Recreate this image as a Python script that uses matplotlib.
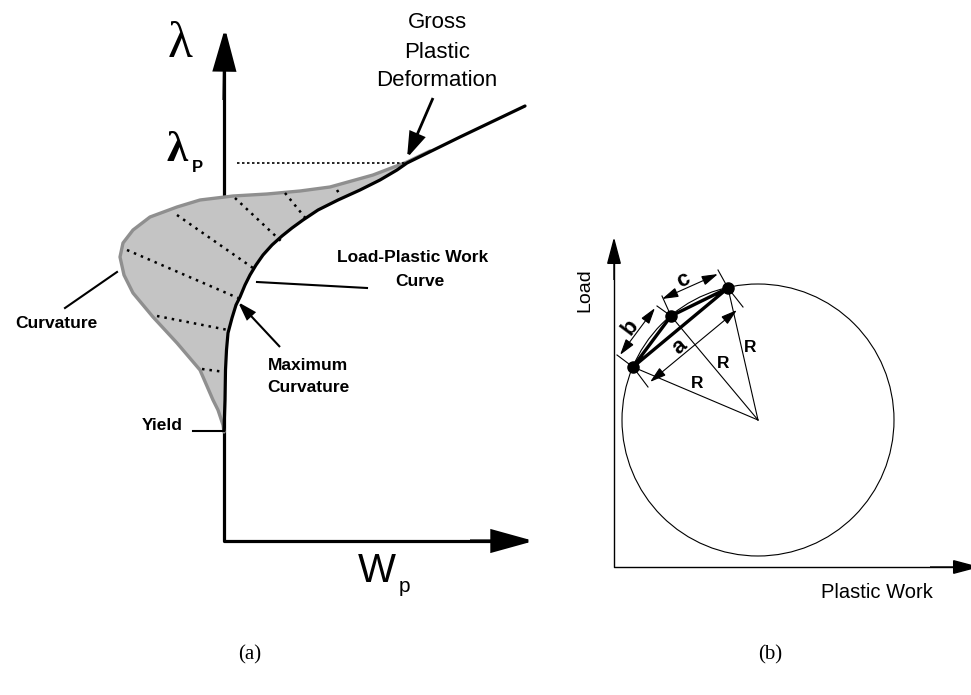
import matplotlib
matplotlib.use("Agg")
import matplotlib.pyplot as plt
from matplotlib.patches import FancyArrowPatch, Circle, Polygon

# ---- panel (a): schematic curves (pixel units) ----
black_x = [224, 225, 225.5, 226.5, 228, 232, 236, 240, 245, 250, 256, 263, 272, 282, 292, 303, 318, 338, 360, 380, 397, 407, 460, 525]
black_y = [430, 400, 370, 350, 333, 318, 305, 297, 285, 275, 265, 255, 245, 236, 228, 220, 210, 200, 190, 180, 170, 163, 137, 106]
gray_x = [224, 223, 218, 213, 200, 177, 153, 133, 124, 120, 123, 133, 150, 177, 200, 233, 267, 300, 330, 373, 407, 430]
gray_y = [432, 425, 410, 400, 370, 343, 317, 293, 275, 257, 243, 230, 217, 207, 200, 196, 194, 191, 187, 175, 162, 151]
dotted = [((235, 198), (282, 242)), ((285, 193), (307, 220)), ((337, 190), (340, 195)),
          ((177, 215), (253, 268)), ((127, 250), (238, 298)), ((157, 316), (228, 330)),
          ((202, 369), (225, 372))]

# ---- panel (b): circle and three points ----
centre = (758, 420)
radius = 136
pts_x = [633, 671, 728]
pts_y = [367, 316, 288]

fig = plt.figure(figsize=(9.71, 6.95), dpi=100)
ax = fig.add_axes([0, 0, 1, 1])
ax.set_xlim(0, 971)
ax.set_ylim(695, 0)
ax.axis("off")

def arrow(p0, p1, lw, hl, hw, style="-|>", ms=10, z=4):
    ax.add_patch(FancyArrowPatch(p0, p1, arrowstyle=f"{style},head_length={hl},head_width={hw}",
                                 mutation_scale=ms, lw=lw, color="k", shrinkA=0, shrinkB=0,
                                 joinstyle="miter", capstyle="butt", zorder=z))

# axes of panel (a) (drawn under the grey fill)
ax.plot([224, 224, 500], [60, 541, 541], color="k", lw=2.3, zorder=0.5)
arrow((224, 100), (225, 28), 2.3, 2.6, 0.72)
arrow((470, 541), (534, 541), 2.3, 2.6, 0.72)

# fill between grey boundary and black curve
cut = 21  # index in black curve at tangency
poly = list(zip(gray_x, gray_y)) + list(zip(black_x[:cut + 1], black_y[:cut + 1]))[::-1]
ax.add_patch(Polygon(poly, closed=True, fc="#c4c4c4", ec="none", zorder=1))
ax.plot(gray_x, gray_y, color="#8f8f8f", lw=2.4, zorder=2, solid_capstyle="round")
for (x0, y0), (x1, y1) in dotted:
    ax.plot([x0, x1], [y0, y1], color="k", lw=1.8, ls=(0, (1, 2.0)), zorder=3)
ax.plot(black_x, black_y, color="k", lw=2.3, zorder=4, solid_capstyle="round")
ax.plot([237, 407], [163, 163], color="k", lw=1.2, ls=(0, (1.5, 1.5)), zorder=3)

sans = "Liberation Sans"
serif = "Liberation Serif"
ax.text(180, 45, "λ", family=serif, fontsize=37, ha="center", va="center")
ax.text(177, 151, "λ", family=serif, fontsize=31, fontweight="bold", ha="center", va="center")
ax.text(197, 167, "P", family=sans, fontsize=12, fontweight="bold", ha="center", va="center")
ax.text(377, 571, "W", family=sans, fontsize=29, ha="center", va="center")
ax.text(404, 587, "p", family=sans, fontsize=15, ha="center", va="center")

for txt, yy in [("Gross", 22), ("Plastic", 52), ("Deformation", 80)]:
    ax.text(437, yy, txt, family=sans, fontsize=16, ha="center", va="center")
arrow((433, 98), (407, 158), 2.0, 1.5, 0.5)

bold = dict(family=sans, fontsize=12.5, fontweight="bold", ha="center", va="center")
ax.text(413, 257, "Load-Plastic Work", **bold)
ax.text(420, 282, "Curve", **bold)
ax.plot([257, 367], [282, 288], color="k", lw=1.5)

ax.text(56, 324, "Curvature", **bold)
ax.plot([65, 117], [308, 272], color="k", lw=1.5)

ax.text(308, 365, "Maximum", **bold)
ax.text(308, 388, "Curvature", **bold)
arrow((280, 347), (238, 302), 1.5, 1.1, 0.35)

ax.text(162, 426, "Yield", **bold)
ax.plot([193, 224], [431, 431], color="k", lw=1.5)

# ---- panel (b) ----
ax.plot([614, 614, 960], [250, 567, 567], color="k", lw=1.0)
arrow((614, 280), (614, 237), 1.0, 1.7, 0.45)
arrow((930, 567), (980, 567), 1.0, 1.7, 0.45)
ax.add_patch(Circle(centre, radius, fill=False, ec="k", lw=0.8))
for px, py in zip(pts_x, pts_y):
    ax.plot([centre[0], px], [centre[1], py], color="k", lw=0.8)
ax.plot(pts_x + [pts_x[0]], pts_y + [pts_y[0]], color="k", lw=2.4, zorder=5)
ax.plot(pts_x, pts_y, "o", color="k", ms=8, zorder=6)

# dimension lines a, b, c
ax.plot([633, 648], [367, 387], color="k", lw=0.8)
ax.plot([728, 743], [288, 307], color="k", lw=0.8)
arrow((650, 382), (737, 310), 0.8, 1.0, 0.3, "<|-|>")
ax.plot([633, 617], [367, 355], color="k", lw=0.8)
ax.plot([671, 657], [316, 306], color="k", lw=0.8)
arrow((620, 355), (655, 308), 0.8, 1.0, 0.3, "<|-|>")
ax.plot([671, 662], [316, 296], color="k", lw=0.8)
ax.plot([728, 718], [288, 270], color="k", lw=0.8)
arrow((662, 299), (718, 274), 0.8, 1.0, 0.3, "<|-|>")

ax.text(680, 347, "a", family=sans, fontsize=16, fontweight="bold", rotation=40, ha="center", va="center")
ax.text(630, 327, "b", family=sans, fontsize=16, fontweight="bold", rotation=53, ha="center", va="center")
ax.text(683, 280, "c", family=sans, fontsize=16, fontweight="bold", rotation=26, ha="center", va="center")
for rx, ry in [(697, 384), (723, 364), (750, 347)]:
    ax.text(rx, ry, "R", family=sans, fontsize=12.5, fontweight="bold", ha="center", va="center")

ax.text(585, 290, "Load", family=sans, fontsize=14, rotation=90, ha="center", va="center")
ax.text(877, 592, "Plastic Work", family=sans, fontsize=14.5, ha="center", va="center")

ax.text(250, 655, "(a)", family=serif, fontsize=15, ha="center", va="center")
ax.text(770, 655, "(b)", family=serif, fontsize=15, ha="center", va="center")

fig.savefig("out.png", dpi=100)
